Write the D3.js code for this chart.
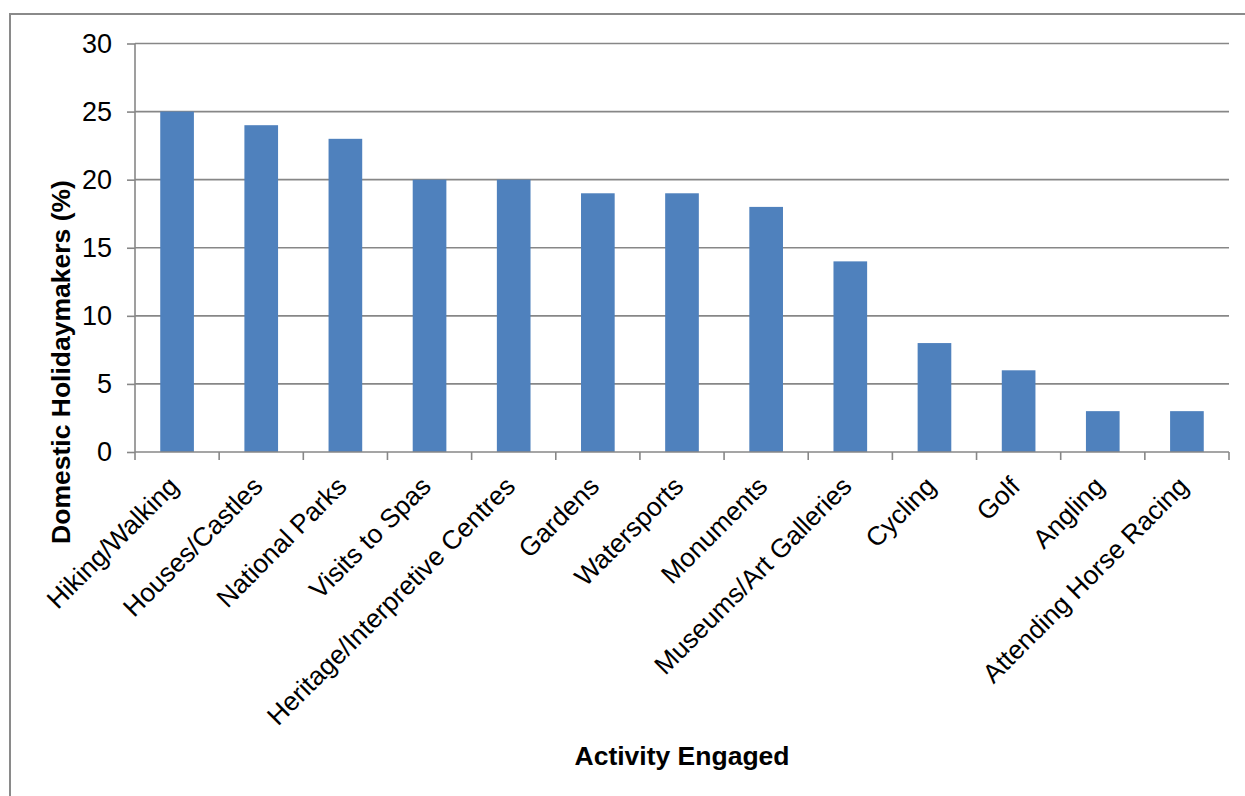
<!DOCTYPE html>
<html>
<head>
<meta charset="utf-8">
<script src="https://cdn.jsdelivr.net/npm/d3@7/dist/d3.min.js"></script>
<style>
  body { margin: 0; background: #fff; }
  svg { display: block; font-family: Arial, "Liberation Sans", sans-serif; }
  .grid line { stroke: #878787; stroke-width: 1.6; }
  .axis path, .axis line { stroke: #878787; stroke-width: 1.6; }
</style>
</head>
<body>
<script>
(function(){

  //chart data
  var activities = ["Hiking/Walking", "Houses/Castles", "National Parks", "Visits to Spas",
    "Heritage/Interpretive Centres", "Gardens", "Watersports", "Monuments",
    "Museums/Art Galleries", "Cycling", "Golf", "Angling", "Attending Horse Racing"];
  var shares = [25, 24, 23, 20, 20, 19, 19, 18, 14, 8, 6, 3, 3];
  var yTicks = [0, 5, 10, 15, 20, 25, 30];
  var yTitle = "Domestic Holidaymakers (%)";
  var xTitle = "Activity Engaged";

  //frame
  var width = 1245, height = 796;
  var left = 135, right = 1229, top = 43.5, bottom = 452;

  var svg = d3.select("body").append("svg")
    .attr("width", width)
    .attr("height", height);

  //outer border (only top and left visible)
  svg.append("path")
    .attr("d", "M10," + height + "V14H" + width)
    .attr("fill", "none")
    .attr("stroke", "#8a8a8a")
    .attr("stroke-width", 2);

  var x = d3.scaleBand()
    .domain(activities)
    .range([left, right])
    .paddingInner(0.6)
    .paddingOuter(0.3);

  var y = d3.scaleLinear()
    .domain([0, 30])
    .range([bottom, top]);

  //gridlines
  svg.append("g")
    .attr("class", "grid")
    .selectAll("line")
    .data(yTicks.filter(function(d){ return d > 0; }))
    .enter()
    .append("line")
    .attr("x1", left)
    .attr("x2", right)
    .attr("y1", function(d){ return y(d); })
    .attr("y2", function(d){ return y(d); });

  //bars
  svg.selectAll(".bar")
    .data(shares)
    .enter()
    .append("rect")
    .attr("class", "bar")
    .attr("x", function(d, i){ return x(activities[i]); })
    .attr("width", x.bandwidth())
    .attr("y", function(d){ return y(d); })
    .attr("height", function(d){ return y(0) - y(d); })
    .attr("fill", "#4f81bd");

  //y axis
  var yAxis = d3.axisLeft(y)
    .tickValues(yTicks)
    .tickSize(8)
    .tickPadding(15);

  svg.append("g")
    .attr("class", "axis")
    .attr("transform", "translate(" + left + ",0)")
    .call(yAxis)
    .call(function(g){ g.select(".domain").attr("d", "M0," + top + "V" + bottom); })
    .selectAll("text")
    .attr("font-size", 27)
    .attr("fill", "#000");

  //x axis: ticks between categories
  var step = x.step();
  var boundaries = d3.range(activities.length + 1).map(function(i){ return left + i * step; });

  var xAxis = svg.append("g").attr("class", "axis");
  xAxis.append("line")
    .attr("x1", left).attr("x2", right)
    .attr("y1", bottom).attr("y2", bottom);
  xAxis.selectAll(".xtick")
    .data(boundaries)
    .enter()
    .append("line")
    .attr("class", "xtick")
    .attr("x1", function(d){ return d; })
    .attr("x2", function(d){ return d; })
    .attr("y1", bottom)
    .attr("y2", bottom + 8);

  //category labels, rotated
  svg.selectAll(".catLabel")
    .data(activities)
    .enter()
    .append("text")
    .attr("class", "catLabel")
    .attr("transform", function(d){
      return "translate(" + (x(d) + x.bandwidth() / 2 + 3) + "," + (bottom + 36) + ") rotate(-45)";
    })
    .attr("text-anchor", "end")
    .attr("font-size", 26.3)
    .attr("fill", "#000")
    .text(function(d){ return d; });

  //axis titles
  svg.append("text")
    .attr("transform", "translate(70," + 362 + ") rotate(-90)")
    .attr("text-anchor", "middle")
    .attr("font-size", 26.5)
    .attr("font-weight", "bold")
    .text(yTitle);

  svg.append("text")
    .attr("x", (left + right) / 2)
    .attr("y", 765)
    .attr("text-anchor", "middle")
    .attr("font-size", 26.5)
    .attr("font-weight", "bold")
    .text(xTitle);

})();
</script>
</body>
</html>
